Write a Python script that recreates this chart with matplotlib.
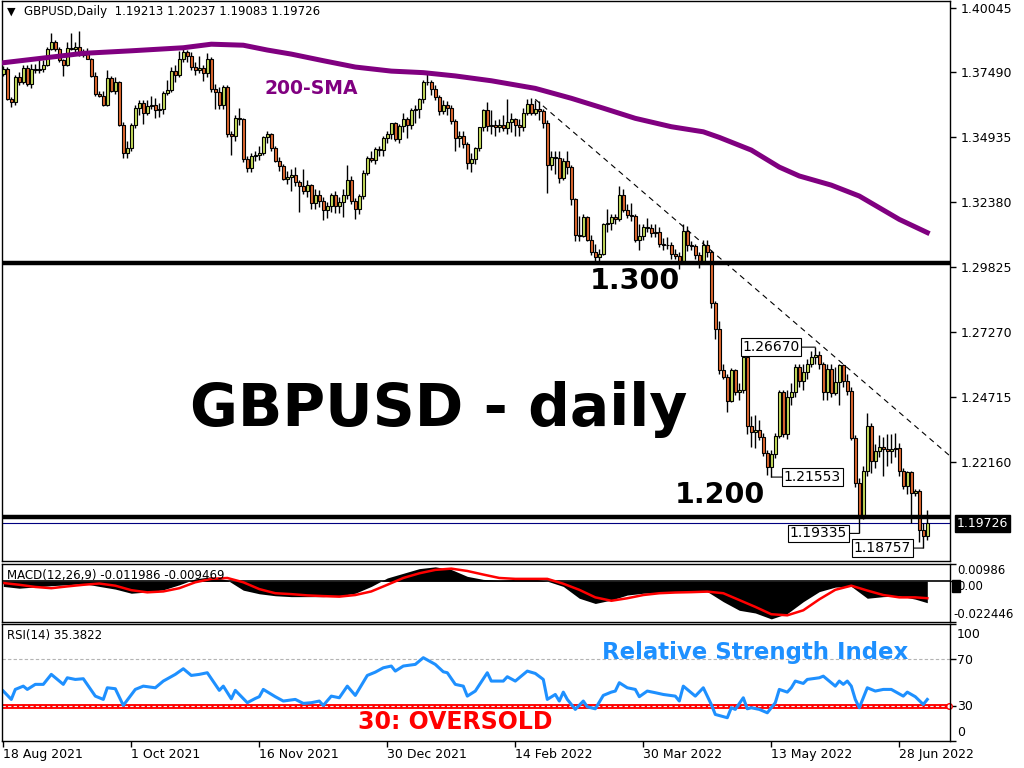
import numpy as np
import matplotlib
matplotlib.use('Agg')
import matplotlib.pyplot as plt
from matplotlib.patches import Rectangle

# daily GBPUSD candles, 18 Aug 2021 .. 7 Jul 2022 (bar index 0..231)
opens = [
    1.3743, 1.3763, 1.3644, 1.3631, 1.3730, 1.3712, 1.3767, 1.3705, 1.3763, 1.3758,
    1.3763, 1.3779, 1.3842, 1.3868, 1.3842, 1.3796, 1.3779, 1.3845, 1.3842, 1.3849,
    1.3816, 1.3829, 1.3802, 1.3734, 1.3664, 1.3657, 1.3620, 1.3726, 1.3677, 1.3710,
    1.3541, 1.3430, 1.3452, 1.3540, 1.3610, 1.3630, 1.3591, 1.3615, 1.3622, 1.3600,
    1.3605, 1.3668, 1.3680, 1.3755, 1.3740, 1.3802, 1.3830, 1.3815, 1.3770, 1.3760,
    1.3765, 1.3745, 1.3802, 1.3685, 1.3672, 1.3620, 1.3690, 1.3505, 1.3499, 1.3571,
    1.3565, 1.3406, 1.3373, 1.3420, 1.3422, 1.3433, 1.3496, 1.3505, 1.3453, 1.3400,
    1.3380, 1.3330, 1.3336, 1.3343, 1.3317, 1.3301, 1.3281, 1.3307, 1.3235, 1.3268,
    1.3242, 1.3206, 1.3224, 1.3268, 1.3222, 1.3238, 1.3268, 1.3327, 1.3242, 1.3211,
    1.3264, 1.3354, 1.3413, 1.3404, 1.3449, 1.3445, 1.3492, 1.3505, 1.3549, 1.3486,
    1.3536, 1.3565, 1.3540, 1.3600, 1.3605, 1.3644, 1.3710, 1.3711, 1.3684, 1.3651,
    1.3598, 1.3620, 1.3607, 1.3558, 1.3492, 1.3497, 1.3468, 1.3391, 1.3406, 1.3452,
    1.3532, 1.3600, 1.3538, 1.3540, 1.3532, 1.3540, 1.3530, 1.3555, 1.3565, 1.3540,
    1.3535, 1.3590, 1.3624, 1.3591, 1.3605, 1.3595, 1.3549, 1.3386, 1.3415, 1.3410,
    1.3335, 1.3400, 1.3375, 1.3250, 1.3110, 1.3105, 1.3180, 1.3090, 1.3040, 1.3020,
    1.3035, 1.3150, 1.3155, 1.3180, 1.3172, 1.3265, 1.3208, 1.3188, 1.3185, 1.3090,
    1.3105, 1.3140, 1.3135, 1.3115, 1.3120, 1.3075, 1.3070, 1.3068, 1.3035, 1.3025,
    1.3005, 1.3125, 1.3070, 1.3065, 1.3030, 1.3005, 1.3070, 1.3040, 1.2840, 1.2740,
    1.2575, 1.2550, 1.2456, 1.2575, 1.2490, 1.2497, 1.2628, 1.2357, 1.2331, 1.2340,
    1.2314, 1.2252, 1.2195, 1.2245, 1.2318, 1.2489, 1.2324, 1.2469, 1.2489, 1.2588,
    1.2535, 1.2569, 1.2601, 1.2628, 1.2635, 1.2601, 1.2489, 1.2582, 1.2485, 1.2529,
    1.2595, 1.2535, 1.2493, 1.2311, 1.2133, 1.1994, 1.2179, 1.2357, 1.2219, 1.2258,
    1.2272, 1.2265, 1.2258, 1.2264, 1.2268, 1.2179, 1.2120, 1.2176, 1.2093, 1.2099,
    1.1948, 1.19213]
highs = [
    1.3776, 1.3769, 1.3651, 1.3739, 1.3750, 1.3779, 1.3779, 1.3783, 1.3783, 1.3802,
    1.3796, 1.3849, 1.3904, 1.3875, 1.3848, 1.3802, 1.3868, 1.3904, 1.3868, 1.3913,
    1.3842, 1.3845, 1.3806, 1.3750, 1.3677, 1.3677, 1.3760, 1.3736, 1.3730, 1.3715,
    1.3552, 1.3480, 1.3550, 1.3620, 1.3640, 1.3640, 1.3640, 1.3655, 1.3650, 1.3630,
    1.3675, 1.3720, 1.3770, 1.3780, 1.3835, 1.3840, 1.3838, 1.3830, 1.3790, 1.3815,
    1.3780, 1.3825, 1.3810, 1.3705, 1.3690, 1.3700, 1.3698, 1.3520, 1.3580, 1.3610,
    1.3570, 1.3420, 1.3430, 1.3440, 1.3460, 1.3500, 1.3520, 1.3510, 1.3460, 1.3415,
    1.3390, 1.3360, 1.3370, 1.3375, 1.3325, 1.3370, 1.3325, 1.3310, 1.3290, 1.3285,
    1.3260, 1.3240, 1.3275, 1.3280, 1.3260, 1.3290, 1.3383, 1.3340, 1.3255, 1.3270,
    1.3365, 1.3420, 1.3440, 1.3455, 1.3460, 1.3500, 1.3520, 1.3550, 1.3555, 1.3545,
    1.3590, 1.3575, 1.3610, 1.3620, 1.3650, 1.3720, 1.3750, 1.3720, 1.3700, 1.3660,
    1.3640, 1.3635, 1.3620, 1.3565, 1.3520, 1.3520, 1.3475, 1.3430, 1.3455, 1.3535,
    1.3605, 1.3633, 1.3600, 1.3560, 1.3565, 1.3580, 1.3645, 1.3590, 1.3570, 1.3565,
    1.3610, 1.3645, 1.3650, 1.3640, 1.3635, 1.3605, 1.3560, 1.3440, 1.3440, 1.3440,
    1.3410, 1.3440, 1.3385, 1.3255, 1.3185, 1.3190, 1.3185, 1.3110, 1.3075, 1.3055,
    1.3155, 1.3210, 1.3190, 1.3190, 1.3300, 1.3290, 1.3230, 1.3235, 1.3190, 1.3150,
    1.3150, 1.3175, 1.3150, 1.3150, 1.3140, 1.3095, 1.3100, 1.3080, 1.3055, 1.3040,
    1.3150, 1.3145, 1.3085, 1.3075, 1.3040, 1.3090, 1.3090, 1.3050, 1.2850, 1.2770,
    1.2600, 1.2560, 1.2585, 1.2580, 1.2525, 1.2640, 1.2640, 1.2395, 1.2400, 1.2380,
    1.2330, 1.2260, 1.2260, 1.2330, 1.2500, 1.2500, 1.2500, 1.2525, 1.2600, 1.2600,
    1.2600, 1.2620, 1.2650, 1.26670, 1.2650, 1.2610, 1.2600, 1.2600, 1.2590, 1.2600,
    1.2600, 1.2560, 1.2510, 1.2320, 1.2150, 1.2200, 1.2406, 1.2370, 1.2285, 1.2320,
    1.2315, 1.2325, 1.2325, 1.2330, 1.2290, 1.2190, 1.2180, 1.2180, 1.2110, 1.2110,
    1.1975, 1.20237]
lows = [
    1.3736, 1.3641, 1.3611, 1.3620, 1.3699, 1.3703, 1.3697, 1.3686, 1.3747, 1.3747,
    1.3752, 1.3773, 1.3839, 1.3835, 1.3790, 1.3734, 1.3776, 1.3839, 1.3829, 1.3813,
    1.3810, 1.3800, 1.3730, 1.3657, 1.3651, 1.3618, 1.3618, 1.3670, 1.3664, 1.3538,
    1.3412, 1.3412, 1.3440, 1.3530, 1.3580, 1.3545, 1.3580, 1.3605, 1.3570, 1.3575,
    1.3585, 1.3660, 1.3670, 1.3710, 1.3730, 1.3790, 1.3790, 1.3760, 1.3740, 1.3745,
    1.3715, 1.3730, 1.3670, 1.3605, 1.3605, 1.3605, 1.3495, 1.3425, 1.3480, 1.3540,
    1.3395, 1.3355, 1.3355, 1.3400, 1.3405, 1.3425, 1.3470, 1.3440, 1.3395, 1.3360,
    1.3325, 1.3310, 1.3280, 1.3300, 1.3198, 1.3270, 1.3260, 1.3210, 1.3210, 1.3220,
    1.3166, 1.3175, 1.3200, 1.3195, 1.3195, 1.3180, 1.3250, 1.3230, 1.3170, 1.3190,
    1.3250, 1.3345, 1.3395, 1.3390, 1.3420, 1.3420, 1.3470, 1.3485, 1.3480, 1.3470,
    1.3515, 1.3490, 1.3525, 1.3550, 1.3570, 1.3630, 1.3700, 1.3660, 1.3640, 1.3580,
    1.3585, 1.3580, 1.3545, 1.3440, 1.3455, 1.3450, 1.3370, 1.3358, 1.3390, 1.3440,
    1.3520, 1.3520, 1.3505, 1.3500, 1.3515, 1.3520, 1.3505, 1.3515, 1.3500, 1.3500,
    1.3520, 1.3580, 1.3580, 1.3580, 1.3560, 1.3530, 1.3275, 1.3365, 1.3350, 1.3315,
    1.3325, 1.3350, 1.3225, 1.3085, 1.3085, 1.3100, 1.3085, 1.3030, 1.3000, 1.3000,
    1.3030, 1.3120, 1.3130, 1.3150, 1.3165, 1.3200, 1.3175, 1.3165, 1.3080, 1.3050,
    1.3090, 1.3120, 1.3100, 1.3100, 1.3060, 1.3050, 1.3055, 1.3015, 1.3015, 1.2975,
    1.2995, 1.3045, 1.3050, 1.3015, 1.2980, 1.2995, 1.3020, 1.2820, 1.2700, 1.2560,
    1.2540, 1.2410, 1.2450, 1.2480, 1.2460, 1.2485, 1.2325, 1.2275, 1.2270, 1.2300,
    1.2240, 1.2165, 1.21553, 1.2230, 1.2310, 1.2315, 1.2305, 1.2440, 1.2470, 1.2510,
    1.2500, 1.2540, 1.2590, 1.2600, 1.2580, 1.2460, 1.2460, 1.2470, 1.2480, 1.2440,
    1.2510, 1.2480, 1.2300, 1.2115, 1.19335, 1.1990, 1.2160, 1.2170, 1.2190, 1.2235,
    1.2160, 1.2200, 1.2210, 1.2235, 1.2160, 1.2110, 1.2090, 1.1975, 1.2080, 1.1900,
    1.18757, 1.19083]
closes = [
    1.3763, 1.3644, 1.3631, 1.3730, 1.3712, 1.3767, 1.3705, 1.3763, 1.3758, 1.3763,
    1.3779, 1.3842, 1.3868, 1.3842, 1.3796, 1.3779, 1.3845, 1.3842, 1.3849, 1.3816,
    1.3829, 1.3802, 1.3734, 1.3664, 1.3657, 1.3620, 1.3726, 1.3677, 1.3710, 1.3541,
    1.3430, 1.3452, 1.3540, 1.3610, 1.3630, 1.3591, 1.3615, 1.3622, 1.3600, 1.3605,
    1.3668, 1.3680, 1.3755, 1.3740, 1.3802, 1.3830, 1.3815, 1.3770, 1.3760, 1.3765,
    1.3745, 1.3802, 1.3685, 1.3672, 1.3620, 1.3690, 1.3505, 1.3499, 1.3571, 1.3565,
    1.3406, 1.3373, 1.3420, 1.3422, 1.3433, 1.3496, 1.3505, 1.3453, 1.3400, 1.3380,
    1.3330, 1.3336, 1.3343, 1.3317, 1.3301, 1.3281, 1.3307, 1.3235, 1.3268, 1.3242,
    1.3206, 1.3224, 1.3268, 1.3222, 1.3238, 1.3268, 1.3327, 1.3242, 1.3211, 1.3264,
    1.3354, 1.3413, 1.3404, 1.3449, 1.3445, 1.3492, 1.3505, 1.3549, 1.3486, 1.3536,
    1.3565, 1.3540, 1.3600, 1.3605, 1.3644, 1.3710, 1.3711, 1.3684, 1.3651, 1.3598,
    1.3620, 1.3607, 1.3558, 1.3492, 1.3497, 1.3468, 1.3391, 1.3406, 1.3452, 1.3532,
    1.3600, 1.3538, 1.3540, 1.3532, 1.3540, 1.3530, 1.3555, 1.3565, 1.3540, 1.3535,
    1.3590, 1.3624, 1.3591, 1.3605, 1.3595, 1.3549, 1.3386, 1.3415, 1.3410, 1.3335,
    1.3400, 1.3375, 1.3250, 1.3110, 1.3105, 1.3180, 1.3090, 1.3040, 1.3020, 1.3035,
    1.3150, 1.3155, 1.3180, 1.3172, 1.3265, 1.3208, 1.3188, 1.3185, 1.3090, 1.3105,
    1.3140, 1.3135, 1.3115, 1.3120, 1.3075, 1.3070, 1.3068, 1.3035, 1.3025, 1.3005,
    1.3125, 1.3070, 1.3065, 1.3030, 1.3005, 1.3070, 1.3040, 1.2840, 1.2740, 1.2575,
    1.2550, 1.2456, 1.2575, 1.2490, 1.2497, 1.2628, 1.2357, 1.2331, 1.2340, 1.2314,
    1.2252, 1.2195, 1.2245, 1.2318, 1.2489, 1.2324, 1.2469, 1.2489, 1.2588, 1.2535,
    1.2569, 1.2601, 1.2628, 1.2635, 1.2601, 1.2489, 1.2582, 1.2485, 1.2529, 1.2595,
    1.2535, 1.2493, 1.2311, 1.2133, 1.1994, 1.2179, 1.2357, 1.2219, 1.2258, 1.2272,
    1.2265, 1.2258, 1.2264, 1.2268, 1.2179, 1.2120, 1.2176, 1.2093, 1.2099, 1.1948,
    1.19213, 1.19726]

# 200-SMA
sma_idx = [0, 20, 32, 45, 52, 60, 66, 72, 80, 88, 97, 105, 113, 122, 133, 142, 150,
           158, 167, 175, 179, 187, 194, 199, 207, 214, 224, 231]
sma_val = [1.3787, 1.3824, 1.3834, 1.3846, 1.3860, 1.3856, 1.3837, 1.3821, 1.3795,
           1.3770, 1.3754, 1.3748, 1.3735, 1.3716, 1.3686, 1.3647, 1.3608, 1.3568,
           1.3535, 1.3515, 1.3493, 1.3443, 1.3376, 1.3341, 1.3305, 1.3262, 1.3170, 1.3118]

# hand drawn objects
levels = [1.3000, 1.2000]
level_text = ['1.300', '1.200']
trend_x = [133, 236.7]
trend_y = [1.3643, 1.2238]
marks_idx = [203, 192, 214, 230]
marks_val = [1.26670, 1.21553, 1.19335, 1.18757]

# MACD(12,26,9)
macd_idx = [0, 4, 8, 12, 16, 20, 24, 28, 32, 36, 40, 44, 48, 52, 56, 60, 64, 68, 72,
            76, 80, 84, 88, 92, 96, 100, 104, 108, 112, 116, 120, 124, 128, 132, 136,
            140, 144, 148, 152, 156, 160, 164, 168, 172, 176, 180, 184, 188, 192, 196,
            200, 204, 208, 212, 216, 220, 224, 228, 231]
macd_main = [-0.0029, -0.0039, -0.0032, -0.0025, -0.0020, -0.0013, -0.0029, -0.0044,
             -0.0067, -0.0060, -0.0048, -0.0020, 0.0013, 0.0025, 0.0006, -0.0050,
             -0.0070, -0.0081, -0.0086, -0.0086, -0.0086, -0.0081, -0.0067, -0.0029,
             0.0018, 0.0044, 0.0070, 0.0080, 0.0065, 0.0027, 0.0010, 0.0005, 0.0010,
             0.0015, 0.0000, -0.0029, -0.0095, -0.0124, -0.0105, -0.0077, -0.0067,
             -0.0063, -0.0059, -0.0058, -0.0058, -0.0114, -0.0162, -0.0177, -0.0210,
             -0.0180, -0.0114, -0.0058, -0.0033, -0.0029, -0.0095, -0.0086, -0.0082,
             -0.0100, -0.011986]
macd_signal = [-0.0010, -0.0020, -0.0032, -0.0039, -0.0029, -0.0020, -0.0013, -0.0025,
               -0.0050, -0.0062, -0.0057, -0.0039, -0.0006, 0.0013, 0.0018, -0.0006,
               -0.0044, -0.0067, -0.0072, -0.0079, -0.0083, -0.0086, -0.0077, -0.0057,
               -0.0020, 0.0018, 0.0044, 0.0063, 0.0070, 0.0057, 0.0037, 0.0018, 0.0013,
               0.0013, 0.0013, -0.0014, -0.0048, -0.0090, -0.0109, -0.0095, -0.0077,
               -0.0067, -0.0063, -0.0061, -0.0058, -0.0067, -0.0105, -0.0143, -0.0184,
               -0.0190, -0.0162, -0.0101, -0.0048, -0.0025, -0.0052, -0.0077, -0.0090,
               -0.0090, -0.009469]

# RSI(14)
rsi_idx = [0, 2, 3, 5, 6, 8, 10, 12, 15, 16, 18, 20, 23, 25, 26, 28, 30, 33, 35, 38,
           40, 43, 45, 47, 49, 51, 53, 54, 55, 57, 58, 61, 63, 64, 65, 68, 70, 73, 75, 77,
           79, 80, 82, 84, 86, 88, 89, 91, 93, 95, 97, 98, 100, 103, 105, 108, 110, 111,
           113, 115, 116, 118, 121, 122, 125, 126, 128, 131, 133, 135, 136, 138, 139,
           140, 141, 143, 145, 146, 148, 150, 152, 153, 154, 156, 158, 159, 161, 163,
           165, 168, 169, 170, 171, 173, 175, 177, 178, 181, 182, 183, 185, 186, 187,
           189, 191, 193, 194, 196, 197, 198, 200, 201, 204, 205, 207, 208, 209, 210,
           211, 212, 213, 214, 216, 218, 220, 222, 225, 226, 228, 230, 231]
rsi_val = [42.5, 35.4, 43.9, 46.7, 43.9, 48.2, 48.2, 56.7, 48.2, 53.8,
           52.4, 53.0, 38.2, 35.4, 45.3, 44.5, 30.3, 43.9, 46.7, 45.3,
           51.0, 56.7, 61.5, 55.8, 56.7, 58.1, 48.2, 43.1, 46.7, 35.9,
           43.1, 32.6, 36.2, 37.7, 43.9, 37.7, 34.0, 35.4, 32.0, 32.6,
           34.0, 30.3, 38.2, 36.8, 46.7, 38.8, 44.5, 55.8, 58.6, 62.3,
           63.8, 59.5, 63.8, 65.2, 70.9, 65.2, 58.9, 58.1, 48.2, 46.7,
           38.2, 42.5, 58.1, 51.0, 51.0, 54.7, 51.0, 59.5, 57.5, 52.4,
           35.4, 39.6, 34.0, 41.6, 35.4, 26.9, 34.0, 29.1, 27.4, 38.8,
           41.6, 42.5, 49.6, 45.3, 43.9, 37.7, 42.5, 41.1, 39.6, 38.2,
           34.0, 46.7, 43.9, 38.2, 45.3, 31.1, 22.6, 19.8, 28.3, 26.9,
           36.8, 27.4, 28.3, 26.9, 24.0, 32.6, 43.9, 41.6, 45.3, 51.0,
           49.0, 52.4, 53.8, 55.2, 49.6, 46.7, 51.0, 48.2, 51.0, 46.7,
           35.4, 28.3, 45.3, 42.5, 43.9, 43.9, 38.2, 41.6, 37.7, 31.1, 35.3822]

price_ticks = [1.40045, 1.37490, 1.34935, 1.32380, 1.29825, 1.27270, 1.24715, 1.22160]
date_idx = [0, 32, 64, 96, 128, 160, 192, 224]
date_labels = ['18 Aug 2021', '1 Oct 2021', '16 Nov 2021', '30 Dec 2021',
               '14 Feb 2022', '30 Mar 2022', '13 May 2022', '28 Jun 2022']

W, H = 1024, 768
BULL = '#c6de5c'
BEAR = '#e0682f'
BOLD = dict(family='DejaVu Sans', weight='bold')

fig = plt.figure(figsize=(W / 100, H / 100), dpi=100)


def rect(x0, y0, x1, y1):
    # pixel box (top-left origin) -> figure fraction
    return [x0 / W, 1 - y1 / H, (x1 - x0) / W, (y1 - y0) / H]


def ftext(x, y, s, **kw):
    kw.setdefault('va', 'center')
    fig.text(x / W, 1 - y / H, s, **kw)


ax = fig.add_axes(rect(2, 1, 950, 561))
ax_macd = fig.add_axes(rect(2, 563.5, 950, 621.5))
ax_rsi = fig.add_axes(rect(2, 623.5, 950, 741))

for a in (ax, ax_macd, ax_rsi):
    a.set_xlim(-0.325, 236.675)
    a.set_xticks([])
    a.yaxis.tick_right()
    a.tick_params(axis='y', direction='out', length=4, width=1, labelsize=9, pad=4)
    for sp in a.spines.values():
        sp.set_linewidth(1)

# --- price panel
x = np.arange(len(closes))
o, h, l, c = (np.array(v) for v in (opens, highs, lows, closes))
colors = np.where(c >= o, BULL, BEAR)
ax.vlines(x, l, h, color='black', lw=1, zorder=2)
ax.bar(x, np.maximum(np.abs(c - o), 0.00005), bottom=np.minimum(o, c), width=0.7,
       color=colors, edgecolor='black', linewidth=0.8, zorder=3)
ax.set_ylim(1.18248, 1.40301)
ax.set_yticks(price_ticks)
ax.set_yticklabels([f'{v:.5f}' for v in price_ticks])

for lv in levels:
    ax.axhline(lv, color='black', lw=3.2, zorder=4)
ax.axhline(closes[-1], color='#000080', lw=0.8, zorder=1)
ax.plot(sma_idx, sma_val, color='#800080', lw=3.6, zorder=5)
ax.plot(trend_x, trend_y, color='black', lw=0.8, dashes=(5, 4), zorder=5)

offsets = [-11.1, 10.3, -10.2, -10.2]
for i, p, dx in zip(marks_idx, marks_val, offsets):
    ax.annotate(f'{p:.5f}', xy=(i, p), xytext=(i + dx, p), ha='center', va='center',
                fontsize=10, zorder=6,
                bbox=dict(boxstyle='square,pad=0.12', fc='white', ec='black', lw=0.8),
                arrowprops=dict(arrowstyle='-', color='black', lw=0.8,
                                shrinkA=0, shrinkB=0))

ax.annotate(f'{closes[-1]:.5f}', xy=(1, closes[-1]), xycoords=('axes fraction', 'data'),
            xytext=(5, 0), textcoords='offset points', ha='left', va='center',
            fontsize=9, color='white', annotation_clip=False,
            bbox=dict(boxstyle='square,pad=0.15', fc='black', ec='black'))

ftext(7, 12, '\u25bc', fontsize=8)
ftext(24, 12, f'GBPUSD,Daily  {opens[-1]:.5f} {highs[-1]:.5f} {lows[-1]:.5f} {closes[-1]:.5f}',
      fontsize=8.5)
ftext(439, 410, 'GBPUSD - daily', fontsize=42, ha='center', **BOLD)
ftext(635, 281, level_text[0], fontsize=20.5, ha='center', **BOLD)
ftext(720, 495, level_text[1], fontsize=20.5, ha='center', **BOLD)
ftext(311, 88, '200-SMA', fontsize=13.5, ha='center', color='#800080', **BOLD)

# --- MACD panel
ax_macd.set_ylim(-0.022446, 0.00986)
ax_macd.fill_between(macd_idx, 0, macd_main, color='black', lw=0)
ax_macd.axhline(0, color='black', lw=1.2)
ax_macd.plot(macd_idx, macd_signal, color='red', lw=1.8)
ax_macd.set_yticks([0.00986, 0, -0.022446])
ax_macd.set_yticklabels(['', '', ''])
ftext(7, 575, f'MACD(12,26,9) {macd_main[-1]:.6f} {macd_signal[-1]:.6f}', fontsize=8.5)
fig.patches.append(Rectangle((952 / W, 1 - 592 / H), 8 / W, 12 / H,
                             transform=fig.transFigure, color='black'))
ftext(957, 571, '0.00986', fontsize=8.5)
ftext(957, 586, '0.00', fontsize=8.5)
ftext(953, 615, '-0.022446', fontsize=8.5)

# --- RSI panel
ax_rsi.set_ylim(0, 100)
ax_rsi.axhline(70, color='#b4b4b4', lw=0.8, dashes=(3, 2))
ax_rsi.axhline(30, color='red', lw=3.5)
ax_rsi.axhline(30, color='#f0f0f0', lw=0.8, dashes=(3, 2))
ax_rsi.plot([236.4], [30], 'o', ms=4, mfc='white', mec='red', clip_on=False)
ax_rsi.plot(rsi_idx, rsi_val, color='#1e90ff', lw=2.2)
ax_rsi.set_yticks([100, 70, 30, 0])
ax_rsi.set_yticklabels(['', '', '', ''])
ftext(7, 636, f'RSI(14) {rsi_val[-1]:.4f}', fontsize=8.5)
for lab, yy in zip(['100', '70', '30', '0'], [634, 660, 707, 733]):
    ftext(957, yy, lab, fontsize=9)
ftext(755, 653, 'Relative Strength Index', fontsize=16.5, ha='center', color='#1e90ff', **BOLD)
ftext(455, 722, '30: OVERSOLD', fontsize=17, ha='center', color='red', **BOLD)

ax_rsi.set_xticks(date_idx)
ax_rsi.set_xticklabels(date_labels)
ax_rsi.tick_params(axis='x', direction='out', length=4, width=1, labelsize=9, pad=1)
for t in ax_rsi.get_xticklabels():
    t.set_ha('left')

fig.savefig('out.png', dpi=100)
